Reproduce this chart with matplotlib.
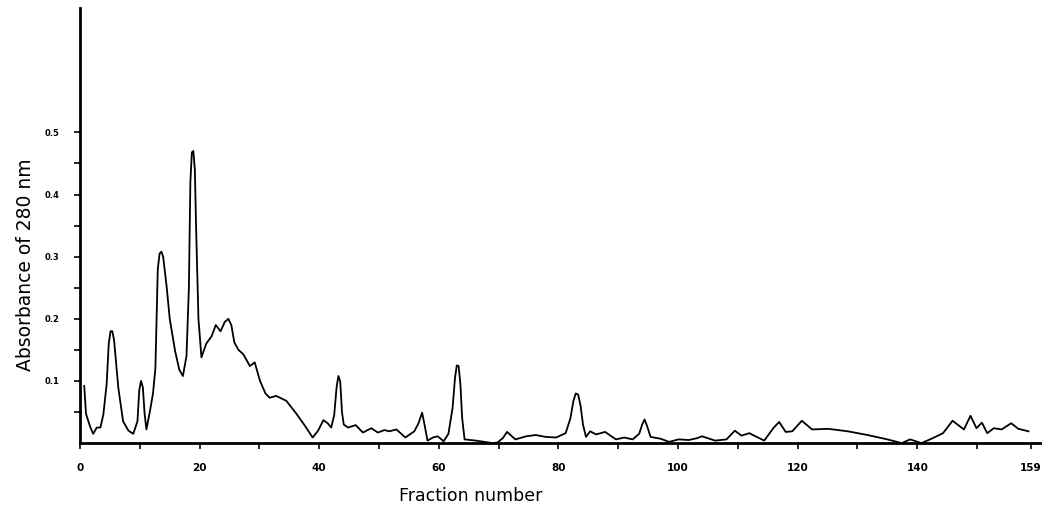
import numpy as np
import matplotlib.pyplot as plt

# --- elution profile (fraction, A280) ---
fraction = [
    0.7, 1.0, 1.7, 2.2, 2.8, 3.4, 3.9, 4.45, 4.8, 5.1, 5.4, 5.7, 6.0, 6.4, 7.2, 8.1,
    8.9, 9.6, 9.9, 10.2, 10.5, 10.8, 11.1, 11.7, 12.2, 12.6, 12.8, 13.0, 13.3,
    13.6, 13.9, 14.2, 14.5, 15.0, 15.9, 16.6, 17.2, 17.8, 18.2, 18.45, 18.7,
    18.95, 19.2, 19.4, 19.8, 20.3, 21.1, 22.0, 22.7, 23.5, 24.2, 24.8, 25.3,
    25.8, 26.5, 27.3, 28.4, 29.2, 30.1, 31.0, 31.7, 32.8, 34.5, 36.2, 37.6,
    38.9, 39.8, 40.7, 41.4, 42.0, 42.5, 42.9, 43.2, 43.5, 43.8, 44.1, 44.8,
    46.1, 47.3, 48.7, 49.8, 50.9, 51.7, 52.9, 54.4, 55.9, 56.6, 57.2, 57.6,
    58.1, 59.0, 59.8, 60.8, 61.6, 62.3, 62.7, 63.0, 63.3, 63.6, 63.9, 64.3,
    66.2, 69.0, 69.8, 70.7, 71.4, 72.8, 74.6, 76.2, 77.9, 79.6, 81.2, 82.0,
    82.5, 82.9, 83.3, 83.7, 84.1, 84.6, 85.3, 86.3, 87.8, 89.6, 91.0, 92.4,
    93.5, 94.0, 94.4, 94.8, 95.4, 97.1, 98.5, 100.1, 101.8, 103.2, 104.0,
    106.2, 108.1, 109.5, 110.6, 111.9, 114.4, 116.0, 116.9, 118.0, 119.1,
    120.7, 122.4, 125.1, 128.4, 131.7, 135.0, 137.4, 138.8, 140.7, 142.6,
    144.3, 145.9, 147.8, 148.9, 149.9, 150.8, 151.7, 152.8, 154.1, 155.7,
    156.9, 158.6,
]
absorbance = [
    0.092, 0.047, 0.026, 0.015, 0.025, 0.025, 0.046, 0.095, 0.160, 0.180, 0.180,
    0.165, 0.132, 0.089, 0.035, 0.020, 0.015, 0.035, 0.085, 0.100, 0.090, 0.047,
    0.022, 0.052, 0.080, 0.120, 0.200, 0.280, 0.305, 0.308, 0.300, 0.275, 0.250,
    0.200, 0.148, 0.118, 0.108, 0.140, 0.250, 0.420, 0.468, 0.470, 0.440, 0.350,
    0.200, 0.138, 0.160, 0.172, 0.190, 0.180, 0.195, 0.200, 0.190, 0.162, 0.150,
    0.143, 0.124, 0.130, 0.100, 0.080, 0.073, 0.076, 0.068, 0.047, 0.028, 0.009,
    0.020, 0.037, 0.032, 0.025, 0.045, 0.090, 0.108, 0.100, 0.050, 0.030, 0.025,
    0.029, 0.017, 0.024, 0.017, 0.021, 0.019, 0.022, 0.009, 0.019, 0.032, 0.049,
    0.030, 0.004, 0.009, 0.011, 0.003, 0.015, 0.057, 0.105, 0.125, 0.124, 0.095,
    0.040, 0.006, 0.004, 0.000, 0.001, 0.008, 0.018, 0.006, 0.011, 0.013, 0.010,
    0.009, 0.016, 0.040, 0.068, 0.080, 0.078, 0.060, 0.030, 0.010, 0.019, 0.014,
    0.018, 0.006, 0.009, 0.006, 0.015, 0.030, 0.038, 0.028, 0.010, 0.007, 0.002,
    0.006, 0.005, 0.008, 0.011, 0.004, 0.006, 0.020, 0.012, 0.016, 0.004, 0.025,
    0.034, 0.018, 0.019, 0.036, 0.022, 0.023, 0.019, 0.013, 0.006, 0.000, 0.006,
    0.000, 0.008, 0.016, 0.036, 0.022, 0.044, 0.024, 0.033, 0.016, 0.024, 0.022,
    0.032, 0.023, 0.019,
]

x_ticks = [0, 20, 40, 60, 80, 100, 120, 140, 159]
y_ticks = [0.1, 0.2, 0.3, 0.4, 0.5]

fig = plt.figure(figsize=(10.49, 5.07), dpi=100)
ax = fig.add_axes([0.0763, 0.126, 0.915, 0.858])

ax.plot(fraction, absorbance, color='black', linewidth=1.3)

ax.set_xlim(0, 160.5)
ax.set_ylim(0, 0.70)

# spines like the old paper figure: only left and bottom
for side in ('top', 'right'):
    ax.spines[side].set_visible(False)
for side in ('left', 'bottom'):
    ax.spines[side].set_linewidth(2.0)

ax.set_xticks(x_ticks)
ax.set_xticklabels([str(t) for t in x_ticks], fontsize=7.5, fontweight='bold')
ax.set_xticks(np.arange(10, 160, 20), minor=True)
ax.set_yticks(y_ticks)
ax.set_yticklabels([f"{t:.1f}" for t in y_ticks], fontsize=6, fontweight='bold')
ax.set_yticks(np.arange(0.05, 0.55, 0.1), minor=True)
ax.tick_params(axis='both', which='both', direction='out', length=4, width=1.2)
ax.tick_params(axis='x', which='major', pad=10)
ax.tick_params(axis='y', which='major', pad=11)

ax.set_ylabel('Absorbance of 280 nm', fontsize=13.5, color='black')
ax.yaxis.set_label_coords(-0.047, 0.41)
ax.set_xlabel('Fraction number', fontsize=12.5, color='black')
ax.xaxis.set_label_coords(0.407, -0.10)

fig.savefig('out.png', dpi=100)
